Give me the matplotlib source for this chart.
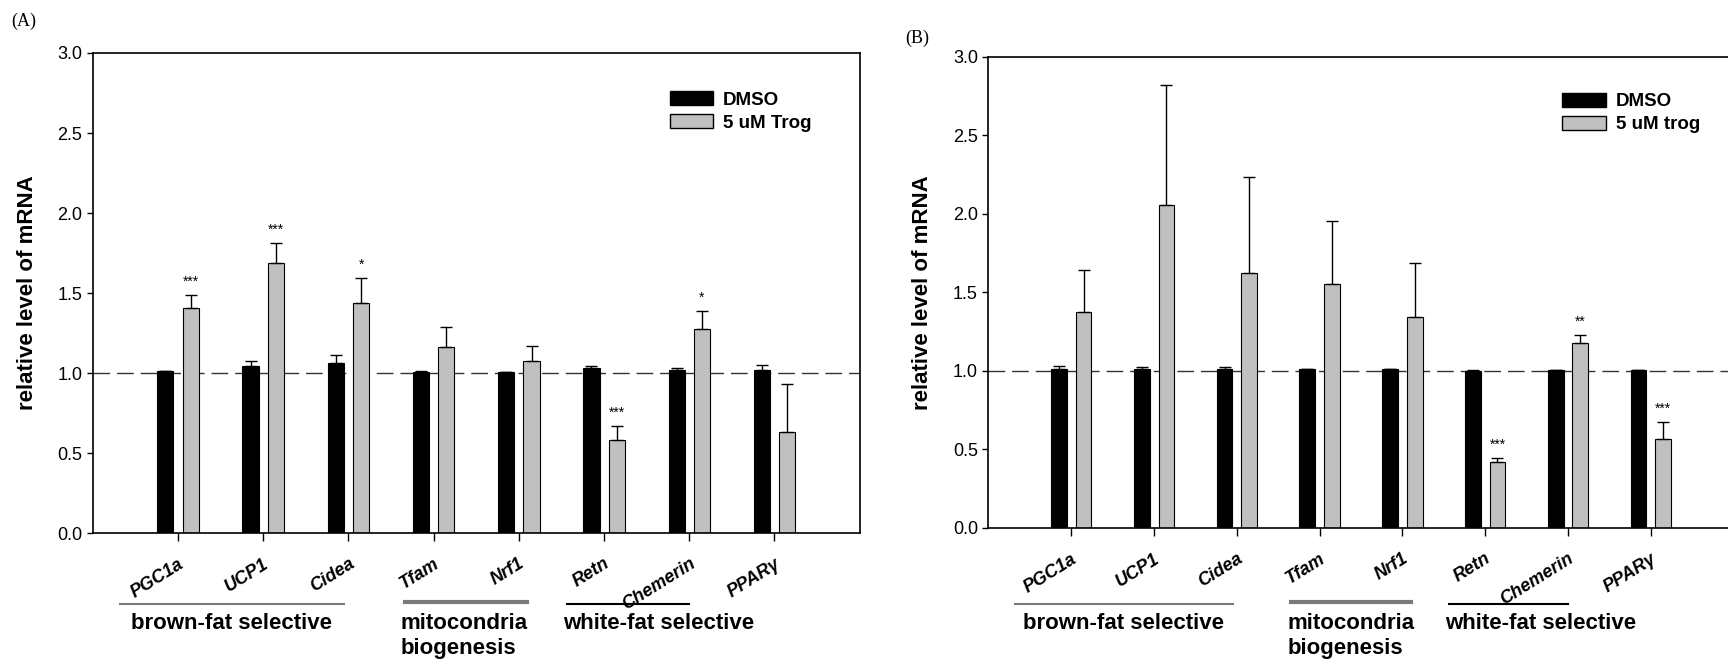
import matplotlib
matplotlib.use("Agg")
import numpy as np
import matplotlib.pyplot as plt
from matplotlib.patches import Patch
from matplotlib.transforms import blended_transform_factory

genes = ["PGC1a", "UCP1", "Cidea", "Tfam", "Nrf1", "Retn", "Chemerin", "PPARγ"]

# panel A
a_dmso = [1.01, 1.046, 1.064, 1.008, 1.004, 1.029, 1.019, 1.021]
a_dmso_err = [0.005, 0.03, 0.05, 0.004, 0.003, 0.017, 0.01, 0.027]
a_trog = [1.405, 1.688, 1.437, 1.16, 1.073, 0.58, 1.273, 0.634]
a_trog_err = [0.08, 0.125, 0.155, 0.125, 0.093, 0.09, 0.116, 0.297]
a_stars = ["***", "***", "*", "", "", "***", "*", ""]

# panel B
b_dmso = [1.013, 1.013, 1.013, 1.01, 1.01, 1.002, 1.006, 1.004]
b_dmso_err = [0.02, 0.015, 0.015, 0.003, 0.003, 0.002, 0.003, 0.002]
b_trog = [1.375, 2.054, 1.625, 1.553, 1.345, 0.422, 1.18, 0.569]
b_trog_err = [0.27, 0.764, 0.61, 0.40, 0.345, 0.025, 0.05, 0.106]
b_stars = ["", "", "", "", "", "***", "**", "***"]

groups = [("brown-fat selective", -0.68, 1.95), ("mitocondria\nbiogenesis", 2.66, 4.1),
          ("white-fat selective", 4.57, 6.0)]

sans = ["Liberation Sans", "DejaVu Sans"]

fig = plt.figure(figsize=(17.28, 6.6), dpi=100)
axA = fig.add_axes([0.0536, 0.1924, 0.4439, 0.7273])
axB = fig.add_axes([0.572, 0.200, 0.4311, 0.714])


def panel(ax, dmso, dmso_err, trog, trog_err, stars, trog_label, leg_xy):
    x = np.arange(len(genes))
    w = 0.19
    ax.bar(x - 0.147, dmso, w, color="black", edgecolor="black", lw=0.8, zorder=2)
    ax.errorbar(x - 0.147, dmso, yerr=[np.zeros(len(x)), dmso_err], fmt="none",
                ecolor="black", elinewidth=1, capsize=4.5, capthick=1, zorder=3)
    ax.bar(x + 0.15, trog, w, color="#c0c0c0", edgecolor="black", lw=0.8, zorder=2)
    ax.errorbar(x + 0.15, trog, yerr=[np.zeros(len(x)), trog_err], fmt="none",
                ecolor="black", elinewidth=1, capsize=4.5, capthick=1, zorder=3)
    for i, s in enumerate(stars):
        if s:
            ax.text(x[i] + 0.15, trog[i] + trog_err[i] + 0.04, s, ha="center", va="bottom",
                    fontsize=10, family=sans)
    ax.axhline(1.0, color="#333333", lw=1, ls=(0, (12, 5)), zorder=1)
    ax.set_xlim(-1, 8)
    ax.set_ylim(0, 3.0)
    ax.set_yticks(np.arange(0, 3.01, 0.5))
    ax.set_yticklabels([f"{v:.1f}" for v in np.arange(0, 3.01, 0.5)], family=sans, fontsize=13)
    ax.set_xticks(x)
    ax.set_xticklabels(genes, rotation=32, ha="right", rotation_mode="anchor",
                       fontsize=13, fontweight="bold", fontstyle="italic", family=sans)
    ax.tick_params(axis="x", length=6, width=1, pad=10)
    ax.tick_params(axis="y", length=4, width=1)
    for sp in ax.spines.values():
        sp.set_linewidth(1.2)
    ax.set_ylabel("relative level of mRNA", fontsize=16, fontweight="bold", family=sans, labelpad=14)
    handles = [Patch(facecolor="black", edgecolor="black", label="DMSO"),
               Patch(facecolor="#c0c0c0", edgecolor="black", label=trog_label)]
    ax.legend(handles=handles, loc="upper left", bbox_to_anchor=leg_xy, frameon=False,
              borderpad=0, handlelength=2.3, handleheight=0.75, handletextpad=0.55,
              labelspacing=0.3, prop={"family": sans, "weight": "bold", "size": 13.5})
    tr = blended_transform_factory(ax.transData, fig.transFigure)
    for name, x0, x1 in groups:
        if name.startswith("brown"):
            ax.plot([x0, x1], [0.085, 0.085], color="#7a7a7a", lw=1.5, transform=tr, clip_on=False)
            fig.text((x0 + x1) / 2, 0.056, name, ha="center", va="center", transform=tr,
                     fontsize=16, fontweight="bold", family=sans)
        elif name.startswith("mito"):
            ax.plot([x0, x1], [0.088, 0.088], color="#7a7a7a", lw=3, transform=tr, clip_on=False)
            fig.text(x0 - 0.05, 0.056, "mitocondria", ha="left", va="center", transform=tr,
                     fontsize=16, fontweight="bold", family=sans)
            fig.text(x0 - 0.05, 0.018, "biogenesis", ha="left", va="center", transform=tr,
                     fontsize=16, fontweight="bold", family=sans)
        else:
            ax.plot([x0, x1], [0.085, 0.085], color="black", lw=1.5, transform=tr, clip_on=False)
            fig.text(x0 - 0.05, 0.056, name, ha="left", va="center", transform=tr,
                     fontsize=16, fontweight="bold", family=sans)


panel(axA, a_dmso, a_dmso_err, a_trog, a_trog_err, a_stars, "5 uM Trog", (0.74, 0.94))
panel(axB, b_dmso, b_dmso_err, b_trog, b_trog_err, b_stars, "5 uM trog", (0.758, 0.943))

fig.text(0.0064, 0.968, "(A)", fontsize=13, family=["Liberation Serif", "DejaVu Serif"], va="center")
fig.text(0.524, 0.942, "(B)", fontsize=13, family=["Liberation Serif", "DejaVu Serif"], va="center")

fig.savefig("out.png", dpi=100)
